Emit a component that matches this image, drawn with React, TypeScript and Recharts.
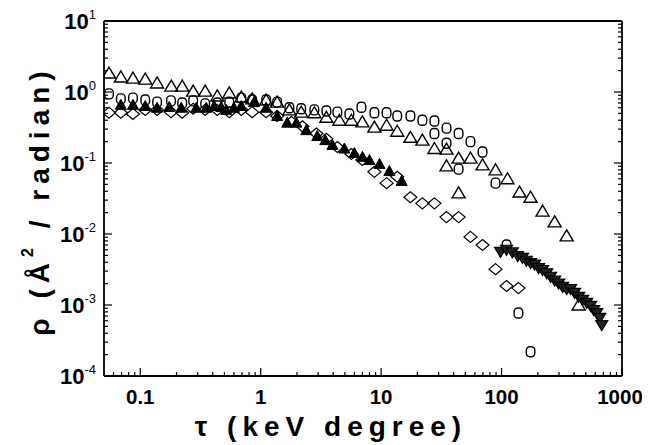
import React from 'react';
import { ScatterChart, Scatter, XAxis, YAxis, Label } from 'recharts';

// ---------- axis ticks ----------
const xMajor = [0.1, 1, 10, 100, 1000];
const xMajorLabels = ['0.1', '1', '10', '100', '1000'];
const xMinor = [
  0.06, 0.07, 0.08, 0.09,
  0.2, 0.3, 0.4, 0.5, 0.6, 0.7, 0.8, 0.9,
  2, 3, 4, 5, 6, 7, 8, 9,
  20, 30, 40, 50, 60, 70, 80, 90,
  200, 300, 400, 500, 600, 700, 800, 900,
];
const yMajor = [1e-4, 1e-3, 1e-2, 1e-1, 1, 10];
const yExponents = ['-4', '-3', '-2', '-1', '0', '1'];
const yMinor = [
  2e-4, 3e-4, 4e-4, 5e-4, 6e-4, 7e-4, 8e-4, 9e-4,
  2e-3, 3e-3, 4e-3, 5e-3, 6e-3, 7e-3, 8e-3, 9e-3,
  2e-2, 3e-2, 4e-2, 5e-2, 6e-2, 7e-2, 8e-2, 9e-2,
  0.2, 0.3, 0.4, 0.5, 0.6, 0.7, 0.8, 0.9,
  2, 3, 4, 5, 6, 7, 8, 9,
];
const xAllTicks = [...xMajor, ...xMinor].sort((a, b) => a - b);
const yAllTicks = [...yMajor, ...yMinor].sort((a, b) => a - b);

// ---------- series: open up-triangles ----------
const openTriTau = [0.055, 0.069, 0.087, 0.11, 0.138, 0.181, 0.223, 0.275, 0.346, 0.436, 0.548, 0.69, 0.85, 1.11, 1.37, 1.73, 2.17, 2.79, 3.51, 4.5, 5.66, 6.98, 8.79, 11.1, 13.6, 17.5, 22.0, 27.7, 34.9, 34.9, 44.0, 44.0, 55.2, 69.5, 89.1, 112, 141, 174, 219, 276, 347, 437];
const openTriRho = [1.85, 1.63, 1.57, 1.52, 1.34, 1.21, 1.21, 1.03, 1.03, 0.88, 0.97, 0.85, 0.80, 0.77, 0.72, 0.56, 0.52, 0.51, 0.44, 0.40, 0.40, 0.38, 0.32, 0.34, 0.28, 0.23, 0.21, 0.16, 0.157, 0.091, 0.117, 0.038, 0.117, 0.094, 0.080, 0.060, 0.039, 0.033, 0.021, 0.0148, 0.0094, 0.001];

// ---------- series: open circles ----------
const circleTau = [0.055, 0.069, 0.087, 0.11, 0.138, 0.18, 0.223, 0.275, 0.346, 0.436, 0.548, 0.69, 0.85, 1.11, 1.37, 1.73, 2.17, 2.79, 3.51, 4.33, 5.45, 6.86, 8.79, 11.1, 13.6, 17.5, 22.0, 27.7, 27.7, 34.9, 34.9, 44.0, 44.0, 55.2, 69.5, 89.1, 110, 138, 174];
const circleRho = [0.94, 0.80, 0.82, 0.77, 0.72, 0.75, 0.70, 0.75, 0.68, 0.70, 0.72, 0.82, 0.77, 0.77, 0.72, 0.60, 0.58, 0.56, 0.54, 0.52, 0.49, 0.61, 0.51, 0.51, 0.46, 0.46, 0.40, 0.39, 0.26, 0.31, 0.19, 0.26, 0.082, 0.20, 0.143, 0.052, 0.0070, 0.00077, 0.00022];

// ---------- series: open diamonds ----------
const diamondTau = [0.055, 0.069, 0.087, 0.11, 0.138, 0.18, 0.223, 0.275, 0.346, 0.436, 0.548, 0.69, 0.85, 1.11, 1.37, 1.80, 2.22, 2.90, 3.51, 4.33, 5.66, 6.98, 8.79, 11.1, 13.6, 17.5, 22.0, 27.7, 34.9, 44.0, 55.2, 69.5, 89.1, 110, 138];
const diamondRho = [0.51, 0.51, 0.49, 0.56, 0.56, 0.52, 0.51, 0.58, 0.56, 0.56, 0.52, 0.56, 0.52, 0.52, 0.46, 0.38, 0.33, 0.26, 0.22, 0.168, 0.134, 0.110, 0.075, 0.052, 0.064, 0.033, 0.027, 0.027, 0.0173, 0.0173, 0.0091, 0.0070, 0.0032, 0.00185, 0.00173];

// ---------- series: filled up-triangles ----------
const filledTriTau = [0.069, 0.087, 0.11, 0.138, 0.174, 0.219, 0.292, 0.353, 0.411, 0.47, 0.518, 0.60, 0.69, 0.88, 1.11, 1.37, 1.66, 1.98, 2.39, 2.95, 3.44, 3.94, 4.95, 6.0, 7.0, 8.0, 9.7, 11.7, 14.8];
const filledTriRho = [0.66, 0.66, 0.635, 0.60, 0.615, 0.60, 0.60, 0.60, 0.635, 0.615, 0.56, 0.60, 0.635, 0.72, 0.60, 0.46, 0.37, 0.37, 0.29, 0.24, 0.21, 0.18, 0.16, 0.138, 0.122, 0.110, 0.097, 0.077, 0.056];

// ---------- series: filled down-triangles ----------
const downTriTau = [98, 110, 123, 136, 149, 161, 174, 188, 203, 219, 237, 255, 276, 298, 321, 347, 374, 404, 437, 471, 509, 550, 582, 617, 653, 679];
const downTriRho = [0.0056, 0.0060, 0.0055, 0.0049, 0.0046, 0.0042, 0.0039, 0.0037, 0.0033, 0.0031, 0.0028, 0.0025, 0.0022, 0.0020, 0.0018, 0.00168, 0.00168, 0.00148, 0.0013, 0.00118, 0.00107, 0.00097, 0.00085, 0.00077, 0.00066, 0.00052];

const zip = (t: number[], r: number[]) => t.map((x, i) => ({ x, y: r[i] }));
const openTriData = zip(openTriTau, openTriRho);
const circleData = zip(circleTau, circleRho);
const diamondData = zip(diamondTau, diamondRho);
const filledTriData = zip(filledTriTau, filledTriRho);
const downTriData = zip(downTriTau, downTriRho);

const FONT = "'Liberation Sans', Arial, Helvetica, sans-serif";
const MAJOR_LEN = 8;
const MINOR_LEN = 4;

// ---------- marker shapes ----------
const OpenTri = (p: any) => {
  const { cx, cy } = p;
  if (cx == null || cy == null) return <g />;
  return <path d={`M${cx},${cy - 6}L${cx + 6.5},${cy + 5}L${cx - 6.5},${cy + 5}Z`} fill="none" stroke="#000" strokeWidth={1.4} />;
};
const OpenCircle = (p: any) => {
  const { cx, cy } = p;
  if (cx == null || cy == null) return <g />;
  return <rect x={cx - 4.3} y={cy - 5} width={8.6} height={10} rx={3.6} ry={3.6} fill="none" stroke="#000" strokeWidth={1.4} />;
};
const OpenDiamond = (p: any) => {
  const { cx, cy } = p;
  if (cx == null || cy == null) return <g />;
  return <path d={`M${cx},${cy - 5.5}L${cx + 6.5},${cy}L${cx},${cy + 5.5}L${cx - 6.5},${cy}Z`} fill="none" stroke="#000" strokeWidth={1.2} />;
};
const FilledTri = (p: any) => {
  const { cx, cy } = p;
  if (cx == null || cy == null) return <g />;
  return <path d={`M${cx},${cy - 5.5}L${cx + 5.5},${cy + 4.5}L${cx - 5.5},${cy + 4.5}Z`} fill="#000" stroke="#000" strokeWidth={1} />;
};
const DownTri = (p: any) => {
  const { cx, cy } = p;
  if (cx == null || cy == null) return <g />;
  return <path d={`M${cx - 6},${cy - 4.5}L${cx + 6},${cy - 4.5}L${cx},${cy + 5.5}Z`} fill="#222" stroke="#000" strokeWidth={1.2} />;
};

const isMajor = (list: number[], v: number) => list.findIndex((m) => Math.abs(Math.log10(m) - Math.log10(v)) < 1e-6);

// ---------- ticks (inward marks drawn at axis position) ----------
const BottomTick = (props: any) => {
  const { x, y, payload } = props;
  const i = isMajor(xMajor, payload.value);
  const len = i >= 0 ? MAJOR_LEN : MINOR_LEN;
  return (
    <g>
      <line x1={x} x2={x} y1={y} y2={y - len} stroke="#000" strokeWidth={1.2} />
      {i >= 0 && (
        <text x={i === xMajor.length - 1 ? x - 2 : x} y={y + 28} textAnchor="middle" fontFamily={FONT} fontSize={20.5} fontWeight="bold" fill="#000">
          {xMajorLabels[i]}
        </text>
      )}
    </g>
  );
};
const TopTick = (props: any) => {
  const { x, y, payload } = props;
  const len = isMajor(xMajor, payload.value) >= 0 ? MAJOR_LEN : MINOR_LEN;
  return <line x1={x} x2={x} y1={y} y2={y + len} stroke="#000" strokeWidth={1.2} />;
};
const LeftTick = (props: any) => {
  const { x, y, payload } = props;
  const i = isMajor(yMajor, payload.value);
  const len = i >= 0 ? MAJOR_LEN : MINOR_LEN;
  return (
    <g>
      <line x1={x} x2={x + len} y1={y} y2={y} stroke="#000" strokeWidth={1.2} />
      {i >= 0 && (
        <text x={x - 8} y={y + 8} textAnchor="end" fontFamily={FONT} fill="#000">
          <tspan fontSize={22} fontWeight="bold">10</tspan>
          <tspan fontSize={13} dy={-10}>{yExponents[i]}</tspan>
        </text>
      )}
    </g>
  );
};
const RightTick = (props: any) => {
  const { x, y, payload } = props;
  const len = isMajor(yMajor, payload.value) >= 0 ? MAJOR_LEN : MINOR_LEN;
  return <line x1={x} x2={x - len} y1={y} y2={y} stroke="#000" strokeWidth={1.2} />;
};

const XTitle = (props: any) => {
  const vb = props.viewBox || { x: 96, y: 368, width: 518, height: 69 };
  return (
    <text x={vb.x + vb.width / 2 - 32} y={vb.y + 60} textAnchor="middle" fontFamily={FONT} fontSize={28} fontWeight="bold" fill="#000" letterSpacing={6}>
      τ (keV degree)
    </text>
  );
};

const YTitle = (props: any) => {
  const vb = props.viewBox || { x: 0, y: 13, width: 96, height: 355 };
  const cx = 31;
  const cy = vb.y + vb.height / 2 + 2;
  return (
    <text x={cx} y={cy} transform={`rotate(-90, ${cx}, ${cy})`} textAnchor="middle" dominantBaseline="central" fontFamily={FONT} fontSize={28} fontWeight="bold" fill="#000" letterSpacing={6}>
      <tspan>ρ (Å</tspan>
      <tspan fontSize={16} dy={-12}>2</tspan>
      <tspan dy={12}> / radian)</tspan>
    </text>
  );
};

const X_DOMAIN: [number, number] = [0.05, 1000];
const Y_DOMAIN: [number, number] = [1e-4, 10];
const axisStroke = { stroke: '#000', strokeWidth: 1.8 };

export default function App() {
  return (
    <ScatterChart width={642} height={437} margin={{ top: 12, right: 27, bottom: 0, left: 0 }}>
      <XAxis xAxisId="x" dataKey="x" orientation="bottom" type="number" scale="log" domain={X_DOMAIN} allowDataOverflow ticks={xAllTicks} interval={0} height={69} tickSize={0} tickMargin={0} tick={BottomTick} tickLine={false} axisLine={axisStroke}>
        <Label content={XTitle} />
      </XAxis>
      <XAxis xAxisId="top" orientation="top" type="number" scale="log" domain={X_DOMAIN} allowDataOverflow ticks={xAllTicks} interval={0} height={1} tickSize={0} tickMargin={0} tick={TopTick} tickLine={false} axisLine={axisStroke} />
      <YAxis yAxisId="y" dataKey="y" orientation="left" type="number" scale="log" domain={Y_DOMAIN} allowDataOverflow ticks={yAllTicks} interval={0} width={96} tickSize={0} tickMargin={0} tick={LeftTick} tickLine={false} axisLine={axisStroke}>
        <Label content={YTitle} />
      </YAxis>
      <YAxis yAxisId="right" orientation="right" type="number" scale="log" domain={Y_DOMAIN} allowDataOverflow ticks={yAllTicks} interval={0} width={1} tickSize={0} tickMargin={0} tick={RightTick} tickLine={false} axisLine={axisStroke} />

      <Scatter xAxisId="x" yAxisId="y" data={openTriData} shape={OpenTri} isAnimationActive={false} />
      <Scatter xAxisId="x" yAxisId="y" data={circleData} shape={OpenCircle} isAnimationActive={false} />
      <Scatter xAxisId="x" yAxisId="y" data={diamondData} shape={OpenDiamond} isAnimationActive={false} />
      <Scatter xAxisId="x" yAxisId="y" data={filledTriData} shape={FilledTri} isAnimationActive={false} />
      <Scatter xAxisId="x" yAxisId="y" data={downTriData} shape={DownTri} isAnimationActive={false} />
    </ScatterChart>
  );
}
